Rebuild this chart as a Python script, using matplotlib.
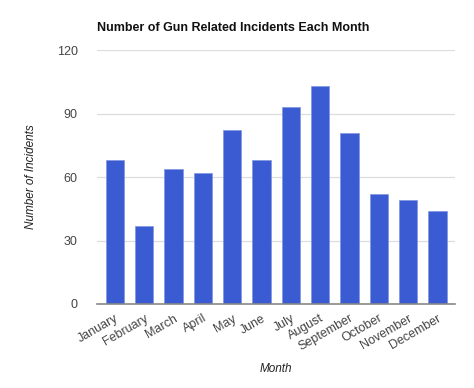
import matplotlib
matplotlib.use('Agg')
import matplotlib.pyplot as plt

months = ['January', 'February', 'March', 'April', 'May', 'June', 'July',
          'August', 'September', 'October', 'November', 'December']
incidents = [68, 37, 64, 62, 82, 68, 93, 103, 81, 52, 49, 44]
yticks = [0, 30, 60, 90, 120]

plt.rcParams['font.family'] = ['Liberation Sans', 'DejaVu Sans']

fig = plt.figure(figsize=(4.74, 3.88), dpi=100)
ax = fig.add_axes([0.205, 0.2165, 0.755, 0.6545])

ax.bar(range(len(months)), incidents, width=0.62, color='#3a5bd1',
       edgecolor='#7f96e0', linewidth=0.5, zorder=3)

ax.set_ylim(0, 120)
ax.set_yticks(yticks)
ax.set_xlim(-0.6, 11.6)
ax.set_xticks(range(len(months)))
ax.set_xticklabels(months, rotation=30, ha='right', rotation_mode='anchor')
ax.tick_params(axis='both', length=0, labelsize=9, colors='#444444', pad=6)
ax.tick_params(axis='y', pad=14)
ax.grid(axis='y', color='#dddddd', linewidth=0.9, zorder=0)

for s in ['top', 'right', 'left']:
    ax.spines[s].set_visible(False)
ax.spines['bottom'].set_color('#888888')
ax.spines['bottom'].set_linewidth(1.2)
ax.spines['bottom'].set_zorder(4)

ax.set_xlabel('Month', style='italic', fontsize=8.5, color='#222222', labelpad=7)
ax.set_ylabel('Number of Incidents', style='italic', fontsize=8.5, color='#222222', labelpad=14)
fig.text(0.205, 0.928, 'Number of Gun Related Incidents Each Month',
         fontsize=9, fontweight='bold', color='#111111', ha='left', va='center')

fig.savefig('out.png', dpi=100)
